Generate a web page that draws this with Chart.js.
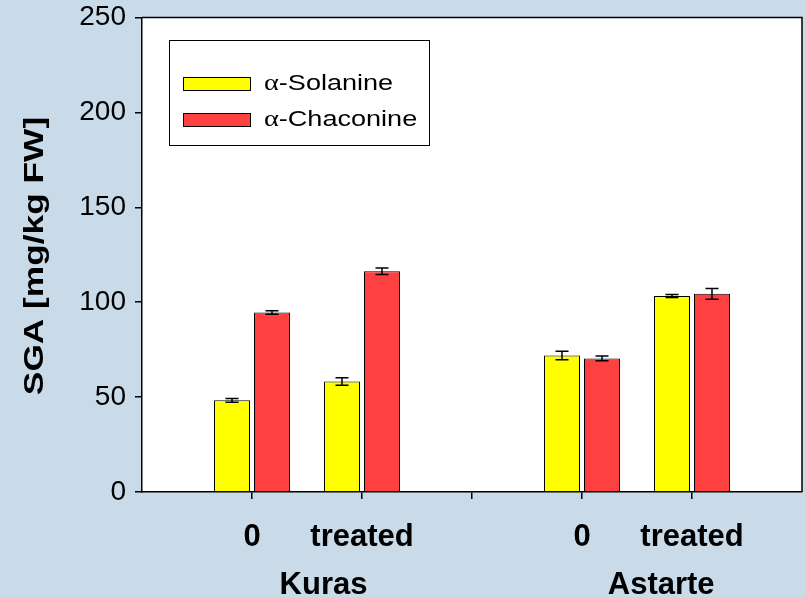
<!DOCTYPE html>
<html><head><meta charset="utf-8">
<script src="https://cdn.jsdelivr.net/npm/chart.js@4/dist/chart.umd.min.js"></script>
<style>html,body{margin:0;padding:0;background:#C9DAE8;overflow:hidden;}</style>
</head><body>
<canvas id="c" width="805" height="597"></canvas>
<script>
const categories = ["", "0", "treated", "", "0", "treated", ""];
const groups = ["Kuras", "Astarte"];
const seriesNames = ["α-Solanine", "α-Chaconine"];
const solanine = [null, 48.3, 58.2, null, 71.9, 103.3, null];
const solanineErr = [null, 1.0, 2.0, null, 2.2, 0.8, null];
const chaconine = [null, 94.6, 116.3, null, 70.4, 104.4, null];
const chaconineErr = [null, 0.9, 1.7, null, 1.3, 2.8, null];
const yTicks = [0, 50, 100, 150, 200, 250];
const yTitle = "SGA [mg/kg FW]";

const SANS = "'Liberation Sans', Arial, sans-serif";
const SERIF = "'Liberation Serif', 'Times New Roman', serif";

function noPad(s) { s.paddingTop = 0; s.paddingBottom = 0; s.paddingLeft = 0; s.paddingRight = 0; }

const decor = {
  id: 'decor',
  beforeDraw(chart) {
    const {ctx, chartArea: a} = chart;
    ctx.save();
    ctx.fillStyle = '#C9DAE8';
    ctx.fillRect(0, 0, chart.width, chart.height);
    ctx.fillStyle = '#FFFFFF';
    ctx.fillRect(a.left, a.top, a.right - a.left, a.bottom - a.top);
    ctx.restore();
  },
  afterDatasetsDraw(chart) {
    const ctx = chart.ctx, y = chart.scales.y;
    ctx.save();
    ctx.strokeStyle = '#000';
    ctx.lineWidth = 1.5;
    chart.data.datasets.forEach((ds, di) => {
      const meta = chart.getDatasetMeta(di);
      meta.data.forEach((bar, i) => {
        const v = ds.data[i], e = ds.errors[i];
        if (v == null || e == null) return;
        const x = bar.x;
        const yt = y.getPixelForValue(v + e), yb = y.getPixelForValue(v - e);
        ctx.beginPath();
        ctx.moveTo(x, yt); ctx.lineTo(x, yb);
        ctx.moveTo(x - 6.5, yt); ctx.lineTo(x + 6.5, yt);
        ctx.moveTo(x - 6.5, yb); ctx.lineTo(x + 6.5, yb);
        ctx.stroke();
      });
    });
    ctx.restore();
  },
  afterDraw(chart) {
    const {ctx, chartArea: a} = chart;
    ctx.save();
    ctx.strokeStyle = '#000';
    ctx.lineWidth = 1.5;
    ctx.beginPath();
    ctx.moveTo(a.left, a.top); ctx.lineTo(a.right, a.top); ctx.lineTo(a.right, a.bottom);
    ctx.stroke();

    // legend
    ctx.lineWidth = 1;
    ctx.strokeRect(169.5, 40.5, 260, 105);
    const rows = [90, 126];
    chart.data.datasets.forEach((ds, i) => {
      const by = rows[i];
      ctx.fillStyle = ds.backgroundColor;
      ctx.fillRect(183, by - 13, 68, 14);
      ctx.strokeStyle = '#000';
      ctx.strokeRect(183.5, by - 12.5, 67, 13);
      ctx.save();
      ctx.translate(264, by);
      ctx.scale(1.23, 1);
      ctx.fillStyle = '#000';
      ctx.textBaseline = 'alphabetic';
      ctx.textAlign = 'left';
      const first = ds.label.charAt(0), rest = ds.label.slice(1);
      ctx.font = '23px ' + SERIF;
      ctx.fillText(first, 0, 0);
      const w = ctx.measureText(first).width;
      ctx.font = '22px ' + SANS;
      ctx.fillText(rest, w, 0);
      ctx.restore();
    });

    // y title
    ctx.save();
    ctx.translate(43, 256);
    ctx.rotate(-Math.PI / 2);
    ctx.scale(1.26, 1);
    ctx.fillStyle = '#000';
    ctx.font = 'bold 28px ' + SANS;
    ctx.textAlign = 'center';
    ctx.textBaseline = 'alphabetic';
    ctx.fillText(yTitle, 0, 0);
    ctx.restore();

    // group labels
    const x = chart.scales.x;
    const centers = [1.65, 4.72];
    ctx.fillStyle = '#000';
    ctx.font = 'bold 31px ' + SANS;
    ctx.textAlign = 'center';
    ctx.textBaseline = 'alphabetic';
    groups.forEach((g, i) => {
      ctx.fillText(g, x.getPixelForValue(centers[i]), 594);
    });
    ctx.restore();
  }
};

new Chart(document.getElementById('c'), {
  type: 'bar',
  data: {
    labels: categories,
    datasets: [
      {label: seriesNames[0], data: solanine, errors: solanineErr, backgroundColor: '#FFFF00', borderColor: '#000', borderWidth: 1, barPercentage: 0.9, categoryPercentage: 0.727},
      {label: seriesNames[1], data: chaconine, errors: chaconineErr, backgroundColor: '#FF4040', borderColor: '#000', borderWidth: 1, barPercentage: 0.9, categoryPercentage: 0.727}
    ]
  },
  options: {
    responsive: false,
    animation: false,
    devicePixelRatio: 1,
    layout: {padding: {top: 17.5, right: 3, left: 0, bottom: 0}},
    plugins: {legend: {display: false}, tooltip: {enabled: false}},
    scales: {
      x: {
        offset: false,
        grid: {
          offset: false, drawOnChartArea: false, tickLength: 7, lineWidth: 1.5,
          tickColor: (c) => (c.index === 0 || c.index === categories.length - 1) ? 'rgba(0,0,0,0)' : '#000'
        },
        border: {color: '#000', width: 1.5},
        ticks: {color: '#000', font: {family: SANS, size: 31, weight: 'bold'}, padding: 20, maxRotation: 0, autoSkip: false},
        afterFit(s) { s.height = 105; noPad(s); }
      },
      y: {
        min: 0, max: 250,
        afterBuildTicks(s) { s.ticks = yTicks.map(v => ({value: v})); },
        grid: {drawOnChartArea: false, tickLength: 7, color: '#000', lineWidth: 1.5},
        border: {color: '#000', width: 1.5},
        ticks: {color: '#000', font: {family: SANS, size: 28}, padding: 9},
        afterFit(s) { s.width = 142; noPad(s); }
      }
    }
  },
  plugins: [decor]
});
</script>
</body></html>
